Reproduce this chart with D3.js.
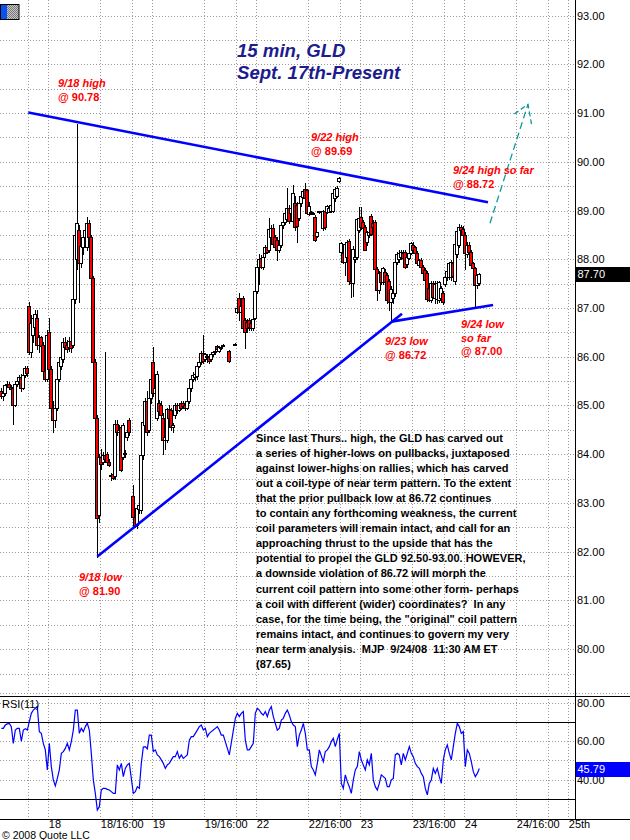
<!DOCTYPE html>
<html>
<head>
<meta charset="utf-8">
<script src="https://cdnjs.cloudflare.com/ajax/libs/d3/7.8.5/d3.min.js"></script>
<style>
  html, body { margin: 0; padding: 0; background: #fff; }
  svg { display: block; font-family: "Liberation Sans", Arial, sans-serif; }
</style>
</head>
<body>
<svg id="chart" width="630" height="840"></svg>
<script>
// ---- GLD 15-minute bars, Sep 17 16:30 through Sep 24 11:15 (7:00-20:00 session frame) ----
const barOpen = [
  85.30,85.20,85.25,85.42,85.45,85.38,85.36,85.00,85.44,85.50,85.58,85.36,85.62,85.76,
  87.05,86.10,86.45,86.62,86.80,86.25,86.40,86.25,85.70,85.55,86.50,85.75,84.95,84.70,84.95,85.55,85.80,85.95,86.30,86.25,86.20,86.33,86.25,87.18,88.00,88.60,87.92,88.25,88.45,88.25,88.75,88.45,87.62,85.90,84.75,82.75,83.95,83.85,83.98,84.00,83.85,83.55,83.60,83.55,84.62,84.45,84.55,83.95,84.02,84.35,84.70,null,
  83.15,82.72,82.55,82.88,82.85,83.98,84.60,85.10,84.50,85.15,85.90,85.25,84.75,85.05,85.00,84.75,84.30,84.30,84.92,84.90,84.55,84.80,85.00,84.90,85.05,85.05,85.00,84.95,85.10,85.35,85.55,85.58,85.60,85.82,85.90,86.08,85.95,86.00,86.00,85.95,86.05,86.10,86.22,86.12,86.18,86.25,null,null,86.12,null,null,86.27,
  86.92,87.20,86.92,87.20,86.75,86.72,86.75,86.70,86.58,86.80,87.35,87.85,88.02,87.85,88.12,88.25,88.20,88.45,88.65,88.45,88.40,88.20,88.30,88.70,88.76,88.82,89.05,88.95,88.78,89.15,89.12,88.85,89.15,89.28,89.45,89.42,88.92,88.96,88.95,88.87,88.47,88.97,null,88.65,89.00,88.98,88.98,89.00,89.00,89.25,89.30,89.60,
  88.15,88.13,87.95,88.05,88.38,87.55,87.52,88.00,88.05,88.60,88.87,88.76,88.66,88.35,88.50,88.88,88.75,88.76,87.80,87.37,87.74,87.53,87.74,87.68,87.55,87.12,87.20,87.30,87.95,88.00,88.05,88.12,88.14,87.90,88.02,88.13,88.30,88.25,88.13,87.88,87.98,87.85,87.78,87.72,87.42,87.17,87.52,87.20,87.18,87.17,87.20,87.30,
  87.50,87.63,87.63,87.63,87.92,87.55,88.10,88.30,88.66,88.62,88.50,88.10,88.30,88.14,87.92,87.82,87.47,87.52
];
const barHigh = [
  85.35,85.32,85.45,85.50,85.48,85.42,85.40,85.46,85.52,85.62,85.64,85.66,85.80,85.82,
  87.12,86.85,86.85,86.95,86.95,86.45,86.42,86.30,85.80,86.55,86.80,85.80,85.10,85.00,85.60,85.95,86.05,86.38,86.40,86.35,86.40,86.38,87.22,88.60,90.78,88.70,88.35,88.50,88.70,88.87,88.80,88.50,87.65,85.95,84.80,84.00,84.10,84.05,86.10,84.05,83.90,83.62,83.62,84.70,84.70,84.60,84.60,84.65,84.08,84.50,84.75,null,
  83.37,82.78,82.95,83.05,84.02,84.72,85.15,85.30,85.20,85.60,86.20,85.45,85.70,85.12,85.10,84.85,84.40,84.95,85.00,84.95,84.65,85.05,85.05,85.05,85.10,85.10,85.06,85.15,85.40,85.60,85.68,85.70,85.85,85.95,86.12,86.45,86.08,86.05,86.04,86.10,86.12,86.15,86.25,86.22,86.22,86.27,null,null,86.13,null,null,86.28,
  87.02,87.30,87.08,87.25,86.80,86.78,86.80,86.78,86.80,87.40,87.90,88.10,88.08,88.10,88.30,88.30,88.84,88.70,88.72,88.50,88.45,88.35,88.72,88.80,88.98,89.46,89.12,89.10,89.52,89.30,89.18,89.20,89.35,89.42,89.56,89.45,89.18,89.00,88.97,88.90,88.56,89.00,null,89.02,89.03,89.12,89.08,89.15,89.40,89.48,89.50,89.69,
  88.36,88.16,88.35,88.40,88.42,87.60,88.28,88.12,88.85,89.07,89.07,88.80,88.70,88.58,88.58,88.92,88.80,88.80,87.85,87.75,87.80,87.85,87.80,87.72,87.60,87.45,87.35,88.00,88.15,88.18,88.18,88.18,88.18,88.08,88.16,88.36,88.35,88.28,88.16,88.00,88.02,87.88,87.82,87.75,87.45,87.55,87.55,87.55,87.55,87.55,87.45,87.35,
  87.66,87.78,87.95,87.98,87.96,88.35,88.62,88.72,88.70,88.68,88.55,88.35,88.35,88.18,87.95,87.85,87.70,87.72
];
const barLow = [
  85.15,85.12,85.22,85.38,85.36,85.30,84.62,84.98,85.40,85.46,85.30,85.34,85.58,85.60,
  86.05,86.00,86.30,86.55,86.15,86.10,86.12,85.60,85.50,85.50,85.70,84.90,84.45,84.55,84.90,85.50,85.75,85.90,86.15,86.10,86.12,86.10,86.20,87.10,87.80,87.12,87.85,88.10,88.40,88.20,88.40,87.60,85.85,84.70,81.90,82.60,83.70,83.80,83.85,83.80,83.75,83.48,83.50,83.50,84.40,84.40,83.65,83.90,83.95,84.30,84.40,null,
  82.70,82.50,82.48,82.80,82.80,83.90,84.50,84.40,84.45,85.05,85.20,85.05,84.70,84.85,84.75,84.00,84.10,84.25,84.70,84.50,84.45,84.75,84.85,84.88,84.92,84.95,84.90,84.92,85.05,85.30,85.50,85.52,85.55,85.78,85.85,85.88,85.92,85.90,85.88,85.92,86.02,86.05,86.12,86.10,86.15,86.22,null,null,85.90,null,null,86.26,
  86.90,86.75,86.88,86.55,86.18,86.50,86.55,86.55,86.55,86.78,87.30,87.50,87.82,87.80,88.05,88.12,88.15,88.40,88.28,88.20,87.98,88.15,88.25,88.65,88.72,88.78,88.74,88.90,88.75,88.60,88.35,88.80,89.10,89.25,89.22,88.92,88.90,88.92,88.93,88.38,88.45,88.95,null,88.60,88.62,88.95,88.96,88.98,88.98,89.20,89.28,89.58,
  88.12,87.92,87.68,88.00,87.50,87.23,87.25,87.95,88.00,88.55,88.62,88.62,88.18,88.30,88.45,88.50,88.62,87.75,87.17,87.30,87.50,87.50,87.50,87.10,86.95,86.72,87.10,87.25,87.90,87.95,88.00,87.98,87.82,87.85,88.00,88.10,88.18,88.10,87.90,87.85,87.80,87.70,87.55,87.15,87.15,87.12,87.20,87.10,87.10,87.12,87.15,87.08,
  87.45,87.58,87.60,87.58,87.60,87.50,88.05,88.25,88.55,88.45,87.80,88.05,88.12,87.85,87.78,87.00,87.42,87.48
];
const barClose = [
  85.20,85.25,85.42,85.45,85.38,85.34,85.00,85.44,85.50,85.58,85.36,85.62,85.76,85.66,
  86.10,86.70,86.80,86.88,86.25,86.40,86.22,85.70,85.55,86.45,85.75,84.95,84.70,84.95,85.55,85.90,86.00,86.30,86.20,86.15,86.33,86.18,87.18,88.50,88.75,87.92,88.28,88.45,88.60,88.75,88.45,87.62,85.90,84.75,82.70,83.95,83.80,83.98,83.90,83.85,83.78,83.58,83.52,84.62,84.45,84.50,83.68,84.60,84.00,84.45,84.45,null,
  82.72,82.53,82.90,82.95,83.98,84.66,85.10,84.45,85.15,85.55,85.25,85.35,85.65,84.88,84.80,84.30,84.35,84.92,84.75,84.55,84.60,85.00,84.90,85.00,84.95,84.98,84.95,85.10,85.35,85.55,85.62,85.65,85.82,85.90,86.08,85.92,86.05,86.02,85.92,86.05,86.10,86.12,86.15,86.20,86.20,86.24,null,null,85.92,null,null,86.27,
  87.00,86.92,87.05,86.58,86.50,86.58,86.60,86.58,86.78,87.35,87.85,88.00,87.85,88.05,88.25,88.15,88.62,88.65,88.32,88.25,88.20,88.30,88.70,88.76,88.95,89.05,88.78,89.05,89.35,88.66,88.68,89.15,89.30,89.40,89.25,88.95,89.10,88.95,88.95,88.40,88.55,88.99,null,89.00,88.66,89.10,89.06,89.12,89.36,89.45,89.47,89.66,
  88.33,87.95,88.32,88.35,87.55,87.52,88.22,88.05,88.82,88.85,88.66,88.65,88.20,88.55,88.55,88.52,88.66,87.80,87.37,87.72,87.53,87.82,87.53,87.17,87.12,87.40,87.30,87.95,88.10,88.12,88.14,88.02,87.85,88.05,88.12,88.33,88.20,88.13,87.93,87.98,87.84,87.72,87.58,87.18,87.17,87.52,87.23,87.50,87.52,87.53,87.42,87.12,
  87.63,87.75,87.92,87.94,87.66,88.32,88.58,88.66,88.60,88.50,88.12,88.30,88.15,87.88,87.82,87.47,87.68,87.70
];
// RSI(11) per bar
const rsiValues = [
  66.7,66.7,68.4,69.0,69.3,67.6,58.9,65.8,66.7,66.7,60.0,65.8,66.5,65.8,
  70.2,74.5,76.2,77.1,78.0,65.0,64.1,58.9,55.5,45.1,58.9,46.8,39.9,36.8,40.7,45.1,53.7,54.6,56.3,58.9,55.5,59.8,65.8,76.2,76.2,64.1,66.7,65.0,67.6,69.3,65.8,53.7,39.9,32.9,24.3,26.0,34.7,35.5,35.5,35.0,34.7,33.8,32.9,32.9,47.7,45.1,48.5,41.6,45.9,47.7,48.5,null,
  32.9,33.8,36.4,35.5,48.5,57.0,57.2,56.0,63.2,63.2,54.6,55.5,52.9,52.0,50.3,48.5,45.9,47.7,48.5,50.3,52.0,52.0,54.6,51.1,52.9,51.1,52.0,52.9,60.6,62.4,62.4,64.1,65.8,67.6,68.4,65.8,66.7,62.4,64.1,65.0,65.8,66.7,67.6,65.8,63.2,63.2,null,null,52.9,null,null,71.9,
  74.5,72.8,74.5,75.4,60.6,55.5,55.5,57.2,58.9,74.5,77.1,76.2,74.5,73.6,75.4,72.8,76.2,78.0,72.8,69.3,65.8,66.7,71.0,71.9,74.5,76.2,73.6,70.2,68.4,67.6,57.2,63.2,65.8,69.3,64.1,55.5,55.5,46.8,45.1,42.5,48.5,55.5,null,49.4,54.6,55.5,57.2,59.8,61.5,57.2,61.0,64.1,
  38.1,35.5,42.5,39.0,36.4,32.9,39.9,45.1,46.8,54.6,50.3,47.7,45.1,50.3,47.7,53.7,39.9,36.4,34.7,38.1,42.5,41.6,40.7,36.4,36.4,39.9,40.7,52.9,53.7,52.9,47.7,53.7,50.3,53.7,57.2,53.7,52.0,48.5,46.8,45.9,43.3,41.6,35.5,32.1,38.1,39.9,45.9,43.3,45.9,41.6,38.1,
  50.3,55.5,58.1,53.7,50.3,57.2,64.1,69.3,67.6,64.1,65.0,46.8,55.5,53.7,49.4,44.2,41.6,43.3,45.79
];

// ---- time axis: trading days, each shown 7:00-20:00 (13 h) ----
const tradingDays = [17, 18, 19, 22, 23, 24, 25];
const sessionTime = (day, hour) => tradingDays.indexOf(day) * 13 + (hour - 7);
const firstBarTime = sessionTime(17, 16.5);
const barMinutes = 15;

const tickDays   = [18, 18, 19, 19, 22, 22, 23, 23, 24, 24, 25];
const tickHours  = [9.5, 16, 9.5, 16, 9.5, 16, 9.5, 16, 9.5, 16, 9.5];
const tickLabels = ["18", "18/16:00", "19", "19/16:00", "22", "22/16:00", "23", "23/16:00", "24", "24/16:00", "25th"];
const eveningDays = [17, 18, 19, 22, 23, 24];   // 20:00 grid lines

const priceTicks = d3.range(80, 94);
const rsiTicks = [80, 60, 40];
const rsiGrid = [80, 60, 50, 40];
const rsiBands = [70, 30];

// ---- trend lines (session time, price) ----
const resistanceLine = [{t: 13.0, p: 91.01}, {t: 70.46, p: 89.17}];
const supportLine    = [{t: 21.625, p: 81.90}, {t: 59.71, p: 86.88}];
const coilFloorLine  = [{t: 58.375, p: 86.72}, {t: 71.1, p: 87.06}];
const arrowShaft     = [{t: 70.71, p: 88.74}, {t: 75.46, p: 91.18}];
const arrowHead      = [{t: 73.75, p: 90.98}, {t: 75.46, p: 91.18}, {t: 75.93, p: 90.75}];

const notes = [
  {x: 58,  y: 87,  lines: [["9/18 high", true], ["@ 90.78", false]]},
  {x: 311, y: 141, lines: [["9/22 high", true], ["@ 89.69", false]]},
  {x: 453, y: 174, lines: [["9/24 high so far", true], ["@ 88.72", false]]},
  {x: 461, y: 328, lines: [["9/24 low", true], ["so far", true], ["@ 87.00", false]]},
  {x: 385, y: 345, lines: [["9/23 low", true], ["@ 86.72", false]]},
  {x: 79,  y: 581, lines: [["9/18 low", true], ["@ 81.90", false]]}
];

const commentary = [
  "Since last Thurs.. high, the GLD has carved out",
  "a series of higher-lows on pullbacks, juxtaposed",
  "against lower-highs on rallies, which has carved",
  "out a coil-type of near term pattern. To the extent",
  "that the prior pullback low at 86.72 continues",
  "to contain any forthcoming weakness, the current",
  "coil parameters will remain intact, and call for an",
  "approaching thrust to the upside that has the",
  "potential to propel the GLD 92.50-93.00. HOWEVER,",
  "a downside violation of 86.72 will morph the",
  "current coil pattern into some other form- perhaps",
  "a coil with different (wider) coordinates?  In any",
  "case, for the time being, the \"original\" coil pattern",
  "remains intact, and continues to govern my very",
  "near term analysis.  MJP  9/24/08  11:30 AM ET",
  "(87.65)"
];

// ---- layout ----
const W = 630, axisX = 575.5;
const mainTop = 0, mainBottom = 693, rsiTop = 696, rsiBottom = 819;

const svg = d3.select("#chart");
const x = d3.scaleLinear().domain([9.46, 81.4]).range([0, axisX]);
const y = d3.scaleLinear().domain([79.1, 93.32]).range([mainBottom, mainTop]);
const yR = d3.scaleLinear().domain([19.6, 83.5]).range([rsiBottom, rsiTop]);

const bars = barOpen.map((o, i) => ({
  t: firstBarTime + i * barMinutes / 60,
  o, h: barHigh[i], l: barLow[i], c: barClose[i], r: rsiValues[i]
}));
const barCenter = d => x(d.t + barMinutes / 120);

// checker pattern for the corner swatch
const defs = svg.append("defs");
const pat = defs.append("pattern").attr("id", "chk").attr("width", 2).attr("height", 2)
  .attr("patternUnits", "userSpaceOnUse");
pat.append("rect").attr("width", 2).attr("height", 2).attr("fill", "#c4c4c4");
pat.append("rect").attr("width", 1).attr("height", 1).attr("fill", "#7a7a7a");
pat.append("rect").attr("x", 1).attr("y", 1).attr("width", 1).attr("height", 1).attr("fill", "#7a7a7a");
defs.append("clipPath").attr("id", "plotClip").append("rect")
  .attr("x", 0).attr("y", mainTop).attr("width", axisX).attr("height", mainBottom - mainTop);

// ---- grid ----
const grid = svg.append("g").attr("stroke", "#9a9a9a").attr("stroke-dasharray", "1,2")
  .attr("stroke-width", 1).attr("shape-rendering", "crispEdges");
const vTimes = tickDays.map((d, i) => sessionTime(d, tickHours[i]))
  .concat(eveningDays.map(d => sessionTime(d, 20)));
vTimes.forEach(t => {
  const gx = Math.round(x(t)) + 0.5;
  grid.append("line").attr("x1", gx).attr("x2", gx).attr("y1", mainTop).attr("y2", mainBottom);
  grid.append("line").attr("x1", gx).attr("x2", gx).attr("y1", rsiTop).attr("y2", rsiBottom);
});
d3.range(79.5, 93.01, 0.5).forEach(p => {
  const gy = Math.round(y(p)) + 0.5;
  grid.append("line").attr("x1", 0).attr("x2", axisX).attr("y1", gy).attr("y2", gy);
});
rsiGrid.forEach(r => {
  const gy = Math.round(yR(r)) + 0.5;
  grid.append("line").attr("x1", 0).attr("x2", axisX).attr("y1", gy).attr("y2", gy);
});
grid.append("line").attr("x1", 0).attr("x2", W).attr("y1", mainBottom + 0.5).attr("y2", mainBottom + 0.5);

// ---- frame ----
const frame = svg.append("g").attr("stroke", "#000").attr("stroke-width", 1).attr("shape-rendering", "crispEdges");
frame.append("line").attr("x1", 0).attr("x2", W).attr("y1", rsiTop + 0.5).attr("y2", rsiTop + 0.5);
frame.append("line").attr("x1", 0).attr("x2", W).attr("y1", rsiBottom + 0.5).attr("y2", rsiBottom + 0.5);
frame.append("line").attr("x1", axisX).attr("x2", axisX).attr("y1", 0).attr("y2", rsiBottom);
rsiBands.forEach(r => {
  const gy = Math.round(yR(r)) + 0.5;
  frame.append("line").attr("x1", 0).attr("x2", axisX).attr("y1", gy).attr("y2", gy);
});

// ---- candles ----
const plot = svg.append("g").attr("clip-path", "url(#plotClip)");
const candles = plot.append("g").attr("shape-rendering", "crispEdges");
bars.filter(d => d.o != null).forEach(d => {
  const c = Math.round(barCenter(d));
  candles.append("line")
    .attr("x1", c + 0.5).attr("x2", c + 0.5)
    .attr("y1", Math.round(y(d.h))).attr("y2", Math.round(y(d.l)) + 1)
    .attr("stroke", "#000").attr("stroke-width", 1);
  const top = Math.round(y(Math.max(d.o, d.c)));
  const bot = Math.round(y(Math.min(d.o, d.c)));
  candles.append("rect")
    .attr("x", c - 1.5).attr("y", top + 0.5)
    .attr("width", 3).attr("height", Math.max(bot - top, 1))
    .attr("fill", d.c < d.o ? "#ff0000" : "#ffffff")
    .attr("stroke", "#000").attr("stroke-width", 1);
});

// ---- trend lines ----
const tl = d3.line().x(d => x(d.t)).y(d => y(d.p));
[resistanceLine, supportLine, coilFloorLine].forEach(seg => {
  plot.append("path").attr("d", tl(seg)).attr("fill", "none")
    .attr("stroke", "#0000ff").attr("stroke-width", 2.6);
});
plot.append("path").attr("d", tl(arrowShaft)).attr("fill", "none")
  .attr("stroke", "#119999").attr("stroke-width", 1.3).attr("stroke-dasharray", "7,4");
plot.append("path").attr("d", tl(arrowHead)).attr("fill", "none")
  .attr("stroke", "#119999").attr("stroke-width", 1.3).attr("stroke-dasharray", "5,3");

// ---- RSI ----
const rsiLine = d3.line().x(barCenter).y(d => yR(d.r));
svg.append("path").datum(bars.filter(d => d.r != null))
  .attr("d", rsiLine).attr("fill", "none").attr("stroke", "#0000ff").attr("stroke-width", 1.2);

// ---- axes ----
const fmt = d3.format(".2f");
const rightAxis = svg.append("g").attr("transform", `translate(${axisX},0)`)
  .call(d3.axisRight(y).tickValues(priceTicks).tickFormat(fmt).tickSize(0).tickPadding(1.5));
const rsiAxis = svg.append("g").attr("transform", `translate(${axisX},0)`)
  .call(d3.axisRight(yR).tickValues(rsiTicks).tickFormat(fmt).tickSize(0).tickPadding(1.5));
const bottomAxis = svg.append("g").attr("transform", `translate(0,${rsiBottom})`)
  .call(d3.axisBottom(x).tickValues(tickDays.map((d, i) => sessionTime(d, tickHours[i])))
    .tickFormat((d, i) => tickLabels[i]).tickSize(0).tickPadding(1.2));
[rightAxis, rsiAxis, bottomAxis].forEach(g => {
  g.select(".domain").remove();
  g.selectAll("text").attr("font-size", 11).attr("fill", "#000")
    .attr("font-family", "'Liberation Sans', Arial, sans-serif");
});
bottomAxis.selectAll("text").attr("text-anchor", "start");

// last-value flags
const lastBar = bars[bars.length - 1];
function flag(val, sc, fill) {
  const cy = sc(val);
  svg.append("rect").attr("x", axisX + 0.5).attr("y", Math.round(cy) - 7)
    .attr("width", W - axisX).attr("height", 15).attr("fill", fill);
  svg.append("text").attr("x", axisX + 2).attr("y", cy).attr("dy", "0.36em")
    .attr("font-size", 11).attr("fill", "#fff").text(fmt(val));
}
flag(lastBar.c, y, "#000000");
flag(lastBar.r, yR, "#0000ff");

// ---- text ----
svg.append("text").attr("x", 2).attr("y", 708).attr("font-size", 11).text("RSI(11)");
svg.append("text").attr("x", 2).attr("y", 839).attr("font-size", 10.5).text("\u00a9 2008 Quote LLC");

const title = svg.append("g").attr("fill", "#1c1c8e").attr("font-size", 18.6)
  .attr("font-weight", "bold").attr("font-style", "italic");
title.append("text").attr("x", 237).attr("y", 57).text("15 min, GLD");
title.append("text").attr("x", 237).attr("y", 79).text("Sept. 17th-Present");

notes.forEach(n => {
  n.lines.forEach(([txt, italic], k) => {
    svg.append("text").attr("x", n.x).attr("y", n.y + k * 13.5)
      .attr("font-size", 11).attr("font-weight", "bold")
      .attr("font-style", italic ? "italic" : "normal")
      .attr("fill", "#ff0000").text(txt);
  });
});

const para = svg.append("g").attr("font-size", 11).attr("font-weight", "bold").attr("fill", "#000");
commentary.forEach((line, k) => {
  para.append("text").attr("x", 256).attr("y", 442 + k * 15.05)
    .attr("xml:space", "preserve").style("white-space", "pre").text(line);
});

// corner swatch
svg.append("rect").attr("x", 0.5).attr("y", 4.5).attr("width", 18.5).attr("height", 15)
  .attr("fill", "url(#chk)").attr("stroke", "#000");
svg.append("rect").attr("x", 1).attr("y", 5).attr("width", 6).attr("height", 14).attr("fill", "#0a52f0");
</script>
</body>
</html>
